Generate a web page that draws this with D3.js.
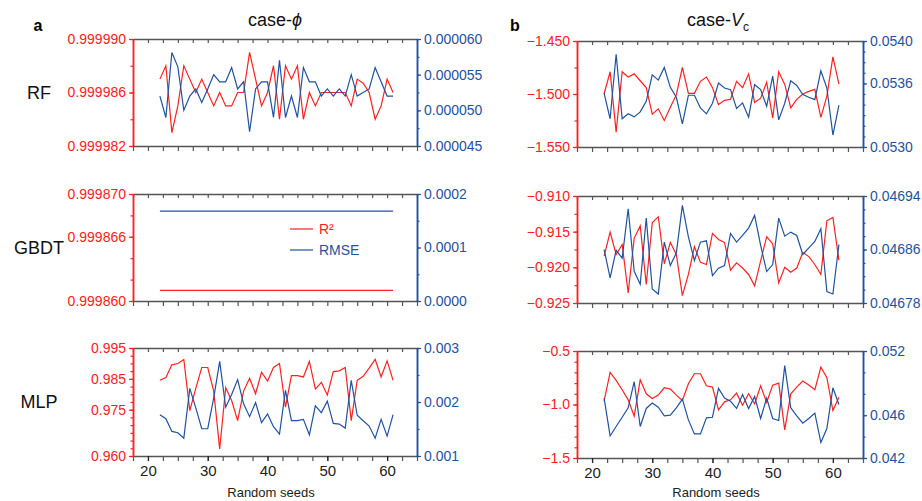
<!DOCTYPE html>
<meta charset="utf-8">
<title>R2 / RMSE vs random seeds</title>
<style>
body { margin: 0; background: #fff; }
svg { font-family: "Liberation Sans", Arial, sans-serif; }
.tick text { font-size: 14px; }
</style>
<body>
<div id="chart"></div>
<script src="https://cdn.jsdelivr.net/npm/d3@7"></script>
<script>

// data
const seeds = [22,23,24,25,26,27,28,29,30,31,32,33,34,35,36,37,38,39,40,41,
               42,43,44,45,46,47,48,49,50,51,52,53,54,55,56,57,58,59,60,61];
const xTickLabels = [20, 30, 40, 50, 60];

// case-phi
const rfPhiR2 = [0.999987,0.999988,0.999983,0.999985,0.999988,0.999987,0.999986,0.999987,0.999986,0.999985,
                 0.999986,0.999985,0.999985,0.999986,0.999986,0.999989,0.999987,0.999985,0.999986,0.999988,
                 0.999984,0.999988,0.999987,0.999988,0.999984,0.999986,0.999985,0.999986,0.999986,0.999986,
                 0.999986,0.999986,0.999985,0.999987,0.9999867,0.999986,0.999984,0.999985,0.999987,0.999986];
const rfPhiRmse = [0.0000520,0.0000490,0.0000581,0.0000561,0.0000500,0.0000520,0.0000530,0.0000511,0.0000530,0.0000550,
                   0.0000540,0.0000540,0.0000560,0.0000530,0.0000540,0.0000470,0.0000530,0.0000540,0.0000540,0.0000490,
                   0.0000570,0.0000490,0.0000520,0.0000490,0.0000560,0.0000540,0.0000540,0.0000520,0.0000530,0.0000520,
                   0.0000530,0.0000520,0.0000550,0.0000520,0.0000525,0.0000530,0.0000560,0.0000540,0.0000520,0.0000520];
const gbdtPhiR2 = [0.999861,0.999861,0.999861,0.999861,0.999861,0.999861,0.999861,0.999861,0.999861,0.999861,
                   0.999861,0.999861,0.999861,0.999861,0.999861,0.999861,0.999861,0.999861,0.999861,0.999861,
                   0.999861,0.999861,0.999861,0.999861,0.999861,0.999861,0.999861,0.999861,0.999861,0.999861,
                   0.999861,0.999861,0.999861,0.999861,0.999861,0.999861,0.999861,0.999861,0.999861,0.999861];
const gbdtPhiRmse = [0.000168,0.000168,0.000168,0.000168,0.000168,0.000168,0.000168,0.000168,0.000168,0.000168,
                     0.000168,0.000168,0.000168,0.000168,0.000168,0.000168,0.000168,0.000168,0.000168,0.000168,
                     0.000168,0.000168,0.000168,0.000168,0.000168,0.000168,0.000168,0.000168,0.000168,0.000168,
                     0.000168,0.000168,0.000168,0.000168,0.000168,0.000168,0.000168,0.000168,0.000168,0.000168];
const mlpPhiR2 = [0.98453,0.98540,0.98955,0.98998,0.99129,0.97472,0.98192,0.98868,0.98868,0.98104,
                  0.96229,0.98214,0.97799,0.97145,0.98104,0.98519,0.98017,0.98715,0.98431,0.98868,
                  0.98998,0.97581,0.98606,0.98606,0.98562,0.99064,0.98170,0.98388,0.97974,0.98737,
                  0.98759,0.98868,0.97145,0.98453,0.98584,0.98846,0.99129,0.98562,0.99086,0.98453];
const mlpPhiRmse = [0.001766,0.001692,0.001455,0.001430,0.001330,0.002252,0.001891,0.001505,0.001505,0.002078,
                    0.002751,0.001903,0.002140,0.002414,0.001966,0.001729,0.001991,0.001617,0.001779,0.001542,
                    0.001405,0.002215,0.001654,0.001654,0.001679,0.001393,0.001928,0.001804,0.002016,0.001604,
                    0.001592,0.001517,0.002402,0.001754,0.001654,0.001555,0.001330,0.001679,0.001368,0.001766];

// case-Vc
const rfVcR2 = [-1.500,-1.479,-1.536,-1.479,-1.484,-1.481,-1.4875,-1.494,-1.519,-1.514,
                -1.525,-1.5125,-1.5006,-1.475,-1.4994,-1.4994,-1.488,-1.484,-1.494,-1.510,
                -1.506,-1.505,-1.488,-1.494,-1.481,-1.508,-1.504,-1.489,-1.5225,-1.479,
                -1.491,-1.513,-1.505,-1.500,-1.4975,-1.4956,-1.522,-1.502,-1.465,-1.4906];
const rfVcRmse = [0.053509,0.053266,0.053875,0.053266,0.053313,0.053284,0.053331,0.053431,0.053681,0.053631,
                  0.053750,0.053563,0.053469,0.053219,0.053488,0.053488,0.053369,0.053313,0.053413,0.053603,
                  0.053556,0.053541,0.053363,0.053416,0.053281,0.053588,0.053541,0.053384,0.053669,0.053256,
                  0.053413,0.053625,0.053581,0.053494,0.053469,0.053447,0.053719,0.053556,0.053113,0.053394];
const gbdtVcR2 = [-0.91844,-0.91506,-0.9182,-0.9168,-0.9236,-0.9159,-0.9142,-0.9224,-0.91375,-0.9129,
                  -0.9195,-0.9165,-0.9182,-0.92397,-0.9210,-0.9171,-0.9193,-0.9196,-0.91525,-0.9161,
                  -0.9165,-0.9204,-0.91938,-0.9201,-0.9210,-0.9226,-0.9191,-0.9157,-0.9167,-0.9222,
                  -0.9200,-0.9207,-0.9201,-0.9179,-0.9185,-0.9196,-0.9210,-0.91347,-0.9130,-0.9190];
const gbdtVcRmse = [0.046860,0.0468175,0.046859,0.046847,0.046921,0.0468275,0.046808,0.046907,0.046801,0.0467935,
                    0.046871,0.046836,0.046855,0.046926,0.046879,0.0468435,0.046871,0.046873,0.046821,0.046832,
                    0.046836,0.046884,0.046871,0.046881,0.046892,0.046911,0.046866,0.046827,0.0468375,0.046907,
                    0.046880,0.046886,0.046881,0.0468525,0.0468625,0.046872,0.046891,0.046797,0.0467935,0.0468675];
const mlpVcR2 = [-0.96875,-0.7,-0.775,-0.8625,-0.95625,-1.109,-0.769,-0.9,-0.94375,-0.9125,
                 -0.84375,-0.85625,-0.9125,-0.9625,-0.80625,-0.7125,-0.7125,-0.825,-0.8375,-1.05,
                 -0.975,-0.95625,-0.89375,-1.00625,-0.9,-0.99375,-0.825,-0.98125,-0.81875,-0.8,
                 -1.2375,-0.9,-0.8375,-0.78125,-0.81875,-0.8625,-0.65,-0.75,-1.05625,-0.93125];
const mlpVcRmse = [0.0476,0.04406,0.04494,0.04581,0.04669,0.04913,0.04494,0.04663,0.04713,0.04675,
                   0.04594,0.04600,0.04669,0.0475,0.04556,0.04425,0.04425,0.04575,0.04581,0.0485,
                   0.0476,0.04731,0.04663,0.04794,0.04663,0.04775,0.04569,0.0476,0.04569,0.0455,
                   0.05063,0.04669,0.04594,0.04525,0.04569,0.04619,0.04344,0.04475,0.04856,0.0470];

const rowNames = ["RF", "GBDT", "MLP"];

// styles
const red = "#ff2020";
const blue = "#1f52a0";
const frame = "#555";

// helper: ticks from lo to hi by step
function steps(lo, hi, step) {
    const n = Math.round((hi - lo) / step);
    return d3.range(n + 1).map(i => lo + i * step);
}

// panel layout + axis options
const panels = [
    { col: 0, row: 0, r2: rfPhiR2, rmse: rfPhiRmse,
      lDom: [0.999982, 0.999990], lTicks: [0.999982, 0.999986, 0.999990], lMinor: 0.000002, lFmt: ".6f",
      rDom: [0.000045, 0.000060], rTicks: [0.000045, 0.000050, 0.000055, 0.000060], rMinor: 0.0000025, rFmt: ".6f" },
    { col: 0, row: 1, r2: gbdtPhiR2, rmse: gbdtPhiRmse, legend: true,
      lDom: [0.999860, 0.999870], lTicks: [0.999860, 0.999866, 0.999870], lMinor: 0.000002, lFmt: ".6f",
      rDom: [0, 0.0002], rTicks: [0, 0.0001, 0.0002], rMinor: 0.00005, rFmt: ".4f" },
    { col: 0, row: 2, r2: mlpPhiR2, rmse: mlpPhiRmse,
      lDom: [0.960, 0.995], lTicks: [0.960, 0.975, 0.985, 0.995], lMinor: 0.0025, lFmt: ".3f",
      rDom: [0.001, 0.003], rTicks: [0.001, 0.002, 0.003], rMinor: 0.0005, rFmt: ".3f" },
    { col: 1, row: 0, r2: rfVcR2, rmse: rfVcRmse,
      lDom: [-1.550, -1.450], lTicks: [-1.550, -1.500, -1.450], lMinor: 0.025, lFmt: ".3f",
      rDom: [0.0530, 0.0540], rTicks: [0.0530, 0.0536, 0.0540], rMinor: 0.0001, rFmt: ".4f" },
    { col: 1, row: 1, r2: gbdtVcR2, rmse: gbdtVcRmse,
      lDom: [-0.925, -0.910], lTicks: [-0.925, -0.920, -0.915, -0.910], lMinor: 0.0025, lFmt: ".3f",
      rDom: [0.04678, 0.04694], rTicks: [0.04678, 0.04686, 0.04694], rMinor: 0.00002, rFmt: ".5f" },
    { col: 1, row: 2, r2: mlpVcR2, rmse: mlpVcRmse,
      lDom: [-1.5, -0.5], lTicks: [-1.5, -1.0, -0.5], lMinor: 0.1, lFmt: ".1f",
      rDom: [0.042, 0.052], rTicks: [0.042, 0.046, 0.052], rMinor: 0.002, rFmt: ".3f" }
];

const width = 922, height = 501;
const colX = [[133, 417], [577, 863]];
const rowY = [[[39, 146], [194, 301], [348, 456]],
              [[41, 147], [196, 303], [351, 458]]];

const svg = d3.select("#chart").append("svg")
    .attr("width", width)
    .attr("height", height);

function styleAxis(g, color) {
    g.select(".domain").attr("stroke", color).attr("stroke-width", 1.5);
    g.selectAll(".tick line").attr("stroke", color).attr("stroke-width", 1.2);
    g.selectAll(".tick text").attr("fill", color);
}

panels.forEach(function(p) {
    const [x0, x1] = colX[p.col];
    const [y0, y1] = rowY[p.col][p.row];

    const x = d3.scaleLinear().domain([17.5, 65]).range([x0, x1]);
    const yL = d3.scaleLinear().domain(p.lDom).range([y1, y0]);
    const yR = d3.scaleLinear().domain(p.rDom).range([y1, y0]);

    const g = svg.append("g").attr("class", "panel");
    const xMinor = steps(17.5, 65, 2.5);

    // top frame, ticks pointing in
    g.append("g")
        .attr("transform", `translate(0,${y0})`)
        .call(d3.axisBottom(x).tickValues(xMinor).tickSize(4).tickSizeOuter(0).tickFormat(""))
        .call(a => styleAxis(a, frame));

    // bottom frame, ticks pointing out
    g.append("g")
        .attr("transform", `translate(0,${y1})`)
        .call(d3.axisBottom(x).tickValues(xMinor).tickSize(5).tickSizeOuter(0).tickFormat(""))
        .call(a => styleAxis(a, frame));

    if (p.row === 2) {
        g.append("g")
            .attr("transform", `translate(0,${y1})`)
            .call(d3.axisBottom(x).tickValues(xTickLabels).tickSize(5).tickPadding(4).tickFormat(d3.format("d")))
            .call(a => a.select(".domain").remove())
            .call(a => styleAxis(a, "#222"))
            .call(a => a.selectAll(".tick text").style("font-size", "15px"));

        g.append("text")
            .attr("x", (x0 + x1) / 2 - 4)
            .attr("y", 497)
            .attr("text-anchor", "middle")
            .style("font-size", "13px")
            .attr("fill", "#222")
            .text("Random seeds");
    }

    // left axis (R2)
    g.append("g")
        .attr("transform", `translate(${x0},0)`)
        .call(d3.axisLeft(yL).tickValues(steps(p.lDom[0], p.lDom[1], p.lMinor)).tickSize(2.5).tickSizeOuter(0).tickFormat(""))
        .call(a => styleAxis(a, red));
    g.append("g")
        .attr("transform", `translate(${x0},0)`)
        .call(d3.axisLeft(yL).tickValues(p.lTicks).tickSize(4).tickPadding(3).tickSizeOuter(0).tickFormat(d3.format(p.lFmt)))
        .call(a => styleAxis(a, red));

    // right axis (RMSE)
    g.append("g")
        .attr("transform", `translate(${x1},0)`)
        .call(d3.axisRight(yR).tickValues(steps(p.rDom[0], p.rDom[1], p.rMinor)).tickSize(2.5).tickSizeOuter(0).tickFormat(""))
        .call(a => styleAxis(a, blue));
    g.append("g")
        .attr("transform", `translate(${x1},0)`)
        .call(d3.axisRight(yR).tickValues(p.rTicks).tickSize(4).tickPadding(3).tickSizeOuter(0).tickFormat(d3.format(p.rFmt)))
        .call(a => styleAxis(a, blue));

    // lines
    const lineL = d3.line().x((d, i) => x(seeds[i])).y(d => yL(d));
    const lineR = d3.line().x((d, i) => x(seeds[i])).y(d => yR(d));

    g.append("path").datum(p.r2)
        .attr("d", lineL)
        .attr("fill", "none").attr("stroke", red).attr("stroke-width", 1.2);
    g.append("path").datum(p.rmse)
        .attr("d", lineR)
        .attr("fill", "none").attr("stroke", blue).attr("stroke-width", 1.2);

    // legend
    if (p.legend) {
        const lg = g.append("g").attr("transform", `translate(${x0 + 157},${y0 + 35})`);
        [["R\u00B2", red], ["RMSE", blue]].forEach(function(item, i) {
            lg.append("line")
                .attr("x1", 0).attr("x2", 23)
                .attr("y1", i * 21).attr("y2", i * 21)
                .attr("stroke", item[1]).attr("stroke-width", 1.2);
            lg.append("text")
                .attr("x", 29).attr("y", i * 21 + 5)
                .style("font-size", "14px")
                .attr("fill", item[1])
                .text(item[0]);
        });
    }

    // row names on the left column only
    if (p.col === 0) {
        g.append("text")
            .attr("x", 39)
            .attr("y", (y0 + y1) / 2 + 6)
            .attr("text-anchor", "middle")
            .style("font-size", "18px")
            .attr("fill", "#111")
            .text(rowNames[p.row]);
    }
});

// panel titles
const tA = svg.append("text")
    .attr("x", 275).attr("y", 26)
    .attr("text-anchor", "middle")
    .style("font-size", "18px").attr("fill", "#111");
tA.append("tspan").text("case-");
tA.append("tspan").style("font-style", "italic").text("\u03D5");

const tB = svg.append("text")
    .attr("x", 718).attr("y", 26)
    .attr("text-anchor", "middle")
    .style("font-size", "18px").attr("fill", "#111");
tB.append("tspan").text("case-");
tB.append("tspan").style("font-style", "italic").text("V");
tB.append("tspan").attr("dy", 5).style("font-size", "12px").text("c");

svg.append("text")
    .attr("x", 38).attr("y", 31)
    .attr("text-anchor", "middle")
    .style("font-size", "16px").style("font-weight", "bold")
    .text("a");
svg.append("text")
    .attr("x", 515).attr("y", 31)
    .attr("text-anchor", "middle")
    .style("font-size", "16px").style("font-weight", "bold")
    .text("b");

</script>
</body>
